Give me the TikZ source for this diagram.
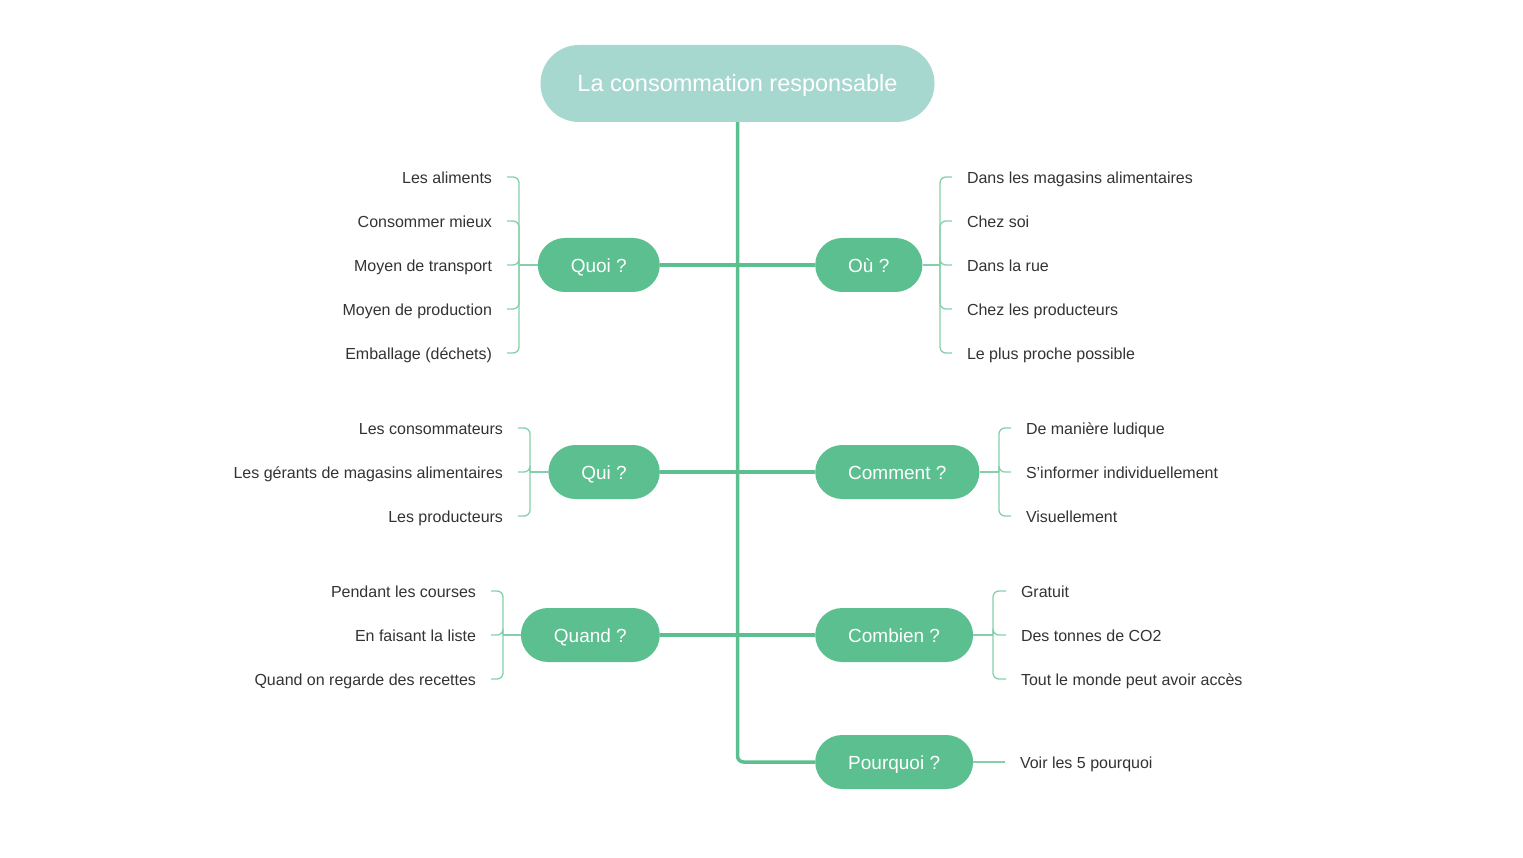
\documentclass[tikz,border=0pt]{standalone}
\usepackage{fontspec}
\setmainfont{Liberation Sans}
\definecolor{rootfill}{HTML}{A7D8CF}
\definecolor{branchfill}{HTML}{5BBF90}
\definecolor{twigcol}{HTML}{86CFAB}
\definecolor{leaftext}{HTML}{333333}
\tikzset{
  rootbox/.style={fill=rootfill, text=white, rounded corners=38.5pt, minimum height=77pt,
    inner xsep=37pt, font=\fontsize{23.5}{28}\selectfont, text height=16.8pt, text depth=0pt},
  branchbox/.style={fill=branchfill, text=white, rounded corners=27pt, minimum height=54pt,
    inner xsep=33pt, font=\fontsize{19}{23}\selectfont, text height=14.6pt, text depth=0pt},
  leaf/.style={text=leaftext, inner sep=0pt, outer xsep=15pt,
    font=\fontsize{16}{19}\selectfont, text height=13.5pt, text depth=0pt},
  trunk/.style={draw=branchfill, line width=3.5pt},
  twig/.style={draw=twigcol, line width=1.3pt, rounded corners=6pt},
}
\begin{document}
\begin{tikzpicture}[x=1pt,y=-1pt]
  \useasboundingbox (0,0) rectangle (1523,858);

  % root and question nodes
  \node[rootbox] (root) at (737.5,83.5) {La consommation responsable};
  \node[branchbox, anchor=east] (quoi) at (660,265) {Quoi ?};
  \node[branchbox, anchor=west] (ou) at (815,265) {Où ?};
  \node[branchbox, anchor=east] (qui) at (660,472) {Qui ?};
  \node[branchbox, anchor=west] (comment) at (815,472) {Comment ?};
  \node[branchbox, anchor=east] (quand) at (660,635) {Quand ?};
  \node[branchbox, anchor=west] (combien) at (815,635) {Combien ?};
  \node[branchbox, anchor=west] (pourquoi) at (815,762) {Pourquoi ?};

  % main lines
  \draw[trunk, rounded corners=6pt] (root.south) |- (pourquoi.west);
  \draw[trunk] (quoi.east) -- (ou.west);
  \draw[trunk] (qui.east) -- (comment.west);
  \draw[trunk] (quand.east) -- (combien.west);

  % Quoi
  \foreach \txt [count=\i] in {Les aliments, Consommer mieux, Moyen de transport,
      Moyen de production, {Emballage (déchets)}}
    \node[leaf, anchor=east] (quoi-\i) at (507,{177+44*(\i-1)}) {\txt};
  \coordinate (jquoi) at (519,265);
  \draw[twig] (quoi.west) -- (jquoi);
  \foreach \i in {1,...,5} \draw[twig] (jquoi) |- (quoi-\i.east);

  % Ou
  \foreach \txt [count=\i] in {Dans les magasins alimentaires, Chez soi, Dans la rue,
      Chez les producteurs, Le plus proche possible}
    \node[leaf, anchor=west] (ou-\i) at (952,{177+44*(\i-1)}) {\txt};
  \coordinate (jou) at (940,265);
  \draw[twig] (ou.east) -- (jou);
  \foreach \i in {1,...,5} \draw[twig] (jou) |- (ou-\i.west);

  % Qui
  \foreach \txt [count=\i] in {Les consommateurs, Les gérants de magasins alimentaires,
      Les producteurs}
    \node[leaf, anchor=east] (qui-\i) at (518,{428+44*(\i-1)}) {\txt};
  \coordinate (jqui) at (530,472);
  \draw[twig] (qui.west) -- (jqui);
  \foreach \i in {1,...,3} \draw[twig] (jqui) |- (qui-\i.east);

  % Comment
  \foreach \txt [count=\i] in {De manière ludique, S'informer individuellement, Visuellement}
    \node[leaf, anchor=west] (comment-\i) at (1011,{428+44*(\i-1)}) {\txt};
  \coordinate (jcomment) at (999,472);
  \draw[twig] (comment.east) -- (jcomment);
  \foreach \i in {1,...,3} \draw[twig] (jcomment) |- (comment-\i.west);

  % Quand
  \foreach \txt [count=\i] in {Pendant les courses, En faisant la liste,
      Quand on regarde des recettes}
    \node[leaf, anchor=east] (quand-\i) at (491,{591+44*(\i-1)}) {\txt};
  \coordinate (jquand) at (503,635);
  \draw[twig] (quand.west) -- (jquand);
  \foreach \i in {1,...,3} \draw[twig] (jquand) |- (quand-\i.east);

  % Combien
  \foreach \txt [count=\i] in {Gratuit, Des tonnes de CO2, Tout le monde peut avoir accès}
    \node[leaf, anchor=west] (combien-\i) at (1006,{591+44*(\i-1)}) {\txt};
  \coordinate (jcombien) at (993,635);
  \draw[twig] (combien.east) -- (jcombien);
  \foreach \i in {1,...,3} \draw[twig] (jcombien) |- (combien-\i.west);

  % Pourquoi
  \node[leaf, anchor=west] (pourquoi-1) at (1005,762) {Voir les 5 pourquoi};
  \draw[twig] (pourquoi.east) -- (pourquoi-1.west);
\end{tikzpicture}
\end{document}
